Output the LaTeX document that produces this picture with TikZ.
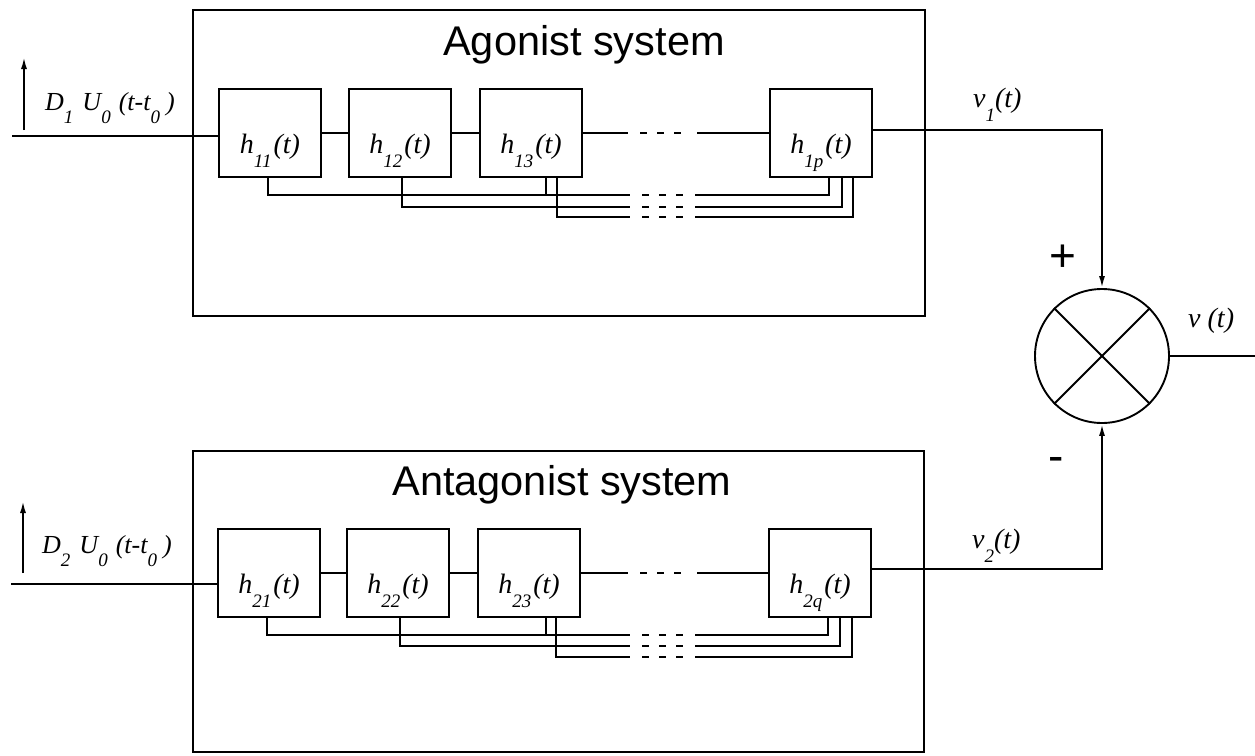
\documentclass[tikz,border=0pt]{standalone}
\usepackage{fontspec}
\setmainfont{Liberation Serif}
\setsansfont{Liberation Sans}
\usetikzlibrary{calc,arrows.meta}
\newcommand\hsub[1]{\raisebox{-0.5em}{\fontsize{19}{19}\selectfont #1}}
\newcommand\blab[1]{h\hsub{#1}\kern2pt(t)}
\begin{document}
\begin{tikzpicture}[x=1pt,y=-1pt,
  ln/.style={line width=1.9pt},
  blk/.style={draw,line width=1.9pt,minimum width=102pt,minimum height=88pt,inner sep=0pt,
    text height=40pt,text depth=0pt,font=\fontsize{28}{28}\selectfont\itshape},
  sysbox/.style={draw,line width=1.9pt},
  ttl/.style={font=\sffamily\fontsize{41.5}{41.5}\selectfont,anchor=base,inner sep=0pt},
  lbl/.style={font=\fontsize{26}{26}\selectfont\itshape,anchor=base west,inner sep=0pt},
  vlbl/.style={font=\fontsize{28}{28}\selectfont\itshape,anchor=base west,inner sep=0pt},
  sgn/.style={font=\sffamily\fontsize{46}{46}\selectfont,inner sep=0pt},
  gap/.style={line width=1.9pt,dash pattern=on 7pt off 10pt},
  arr/.style={line width=1.9pt,-{Latex[length=12pt,width=6pt]}}
]
\useasboundingbox (0,0) rectangle (1255,755);

% ---------- system boxes ----------
\draw[sysbox] (193,10) rectangle (925,316);
\draw[sysbox] (193,451) rectangle (924,752);
\node[ttl] (t1) at (584,55) {Agonist system};
\node[ttl] (t2) at (562,495) {Antagonist system};

% ---------- agonist blocks ----------
\node[blk] (h11) at (270,133) {\blab{11}};
\node[blk] (h12) at (400,133) {\blab{12}};
\node[blk] (h13) at (531,133) {\blab{13}};
\node[blk] (h1p) at (821,133) {\blab{1p}};

\draw[ln] (h11) -- (h12);
\draw[ln] (h12) -- (h13);
\coordinate (c1l) at (628,133);
\coordinate (c1r) at (697,133);
\draw[ln] (h13.east) -- (c1l);
\draw[gap] (640,133) -- (684,133);
\draw[ln] (c1r) -- (h1p.west);

% feedback lines (agonist)
\coordinate (f1l) at (630,195); \coordinate (f1r) at (695,195);
\coordinate (f2l) at (630,207); \coordinate (f2r) at (695,207);
\coordinate (f3l) at (630,217); \coordinate (f3r) at (695,217);
\draw[ln] ([xshift=-2pt]h11.south) |- (f1l);
\draw[ln] ([xshift=15pt]h13.south) -- ++(0,18);
\draw[ln] ([xshift=2pt]h12.south) |- (f2l);
\draw[ln] ([xshift=26pt]h13.south) |- (f3l);
\draw[gap] (642,195) -- (684,195);
\draw[gap] (642,207) -- (684,207);
\draw[gap] (642,217) -- (684,217);
\draw[ln] (f1r) -| ([xshift=8pt]h1p.south);
\draw[ln] (f2r) -| ([xshift=21pt]h1p.south);
\draw[ln] (f3r) -| ([xshift=32pt]h1p.south);

% ---------- antagonist blocks ----------
\node[blk] (h21) at (269,573) {\blab{21}};
\node[blk] (h22) at (398,573) {\blab{22}};
\node[blk] (h23) at (529,573) {\blab{23}};
\node[blk] (h2q) at (820,573) {\blab{2q}};

\draw[ln] (h21) -- (h22);
\draw[ln] (h22) -- (h23);
\coordinate (c2l) at (628,573);
\coordinate (c2r) at (697,573);
\draw[ln] (h23.east) -- (c2l);
\draw[gap] (640,573) -- (684,573);
\draw[ln] (c2r) -- (h2q.west);

% feedback lines (antagonist)
\coordinate (g1l) at (630,635); \coordinate (g1r) at (695,635);
\coordinate (g2l) at (630,646); \coordinate (g2r) at (695,646);
\coordinate (g3l) at (630,657); \coordinate (g3r) at (695,657);
\draw[ln] ([xshift=-2pt]h21.south) |- (g1l);
\draw[ln] ([xshift=17pt]h23.south) -- ++(0,18);
\draw[ln] ([xshift=2pt]h22.south) |- (g2l);
\draw[ln] ([xshift=27pt]h23.south) |- (g3l);
\draw[gap] (642,635) -- (684,635);
\draw[gap] (642,646) -- (684,646);
\draw[gap] (642,657) -- (684,657);
\draw[ln] (g1r) -| ([xshift=8pt]h2q.south);
\draw[ln] (g2r) -| ([xshift=20pt]h2q.south);
\draw[ln] (g3r) -| ([xshift=32pt]h2q.south);

% ---------- inputs ----------
\coordinate (in1) at (12,136);
\draw[ln] (in1) -- (in1 -| h11.west);
\coordinate (imp1b) at (24,130);
\coordinate (imp1t) at (24,57);
\draw[arr] (imp1b) -- (imp1t);
\node[lbl] (d1) at (45,110) {D\hsub{1}\hspace{9pt}U\hsub{0}\hspace{8pt}(t-t\hsub{0}\hspace{6pt})};

\coordinate (in2) at (11,584);
\draw[ln] (in2) -- (in2 -| h21.west);
\coordinate (imp2b) at (23,573);
\coordinate (imp2t) at (23,501);
\draw[arr] (imp2b) -- (imp2t);
\node[lbl] (d2) at (42,553) {D\hsub{2}\hspace{9pt}U\hsub{0}\hspace{8pt}(t-t\hsub{0}\hspace{6pt})};

% ---------- summing junction ----------
\node[draw,circle,line width=1.9pt,minimum size=134pt,inner sep=0pt] (sum) at (1102,356) {};
\draw[ln] (sum.45) -- (sum.225);
\draw[ln] (sum.135) -- (sum.315);
\draw[arr] ([yshift=3pt]h1p.east) -| (sum.north);
\draw[arr] ([yshift=4pt]h2q.east) -| (sum.south);
\coordinate (out) at (1255,356);
\draw[ln] (sum.east) -- (out);

\node[vlbl] (v1) at (973,107) {v\hsub{1}(t)};
\node[vlbl] (v2) at (972,548) {v\hsub{2}(t)};
\node[vlbl] (v) at (1188,327) {v (t)};
\node[sgn] (plus) at (1063,258) {+};
\node[sgn] (minus) at (1056,464) {-};
\end{tikzpicture}
\end{document}
